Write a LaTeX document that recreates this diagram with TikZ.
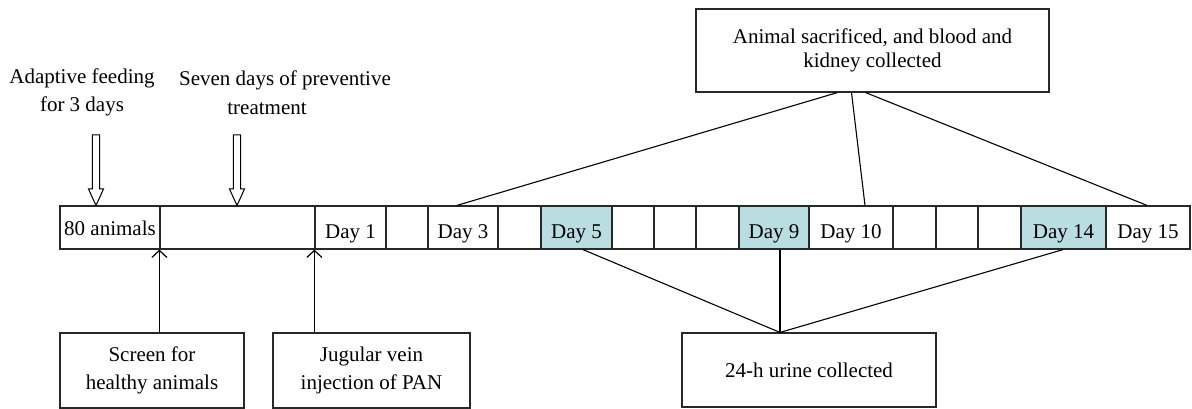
\documentclass[tikz,border=0pt]{standalone}
\usepackage{fontspec}
\setmainfont{Liberation Serif}
\usetikzlibrary{arrows.meta,calc}
\definecolor{tealcell}{RGB}{185,221,224}
\definecolor{ink}{RGB}{40,40,40}
\tikzset{
  txt/.style={font=\fontsize{21}{28.5}\selectfont, inner sep=0pt, align=center},
  cell/.style={draw=ink, line width=1.2pt, minimum height=43pt, inner sep=0pt},
  box/.style={draw=ink, line width=1.1pt, inner sep=0pt, align=center,
    font=\fontsize{21}{28.5}\selectfont},
  conn/.style={draw=black, line width=1.1pt},
  uparrow/.style={draw=black, line width=1.2pt, -{Straight Barb[length=7pt,width=15pt,line width=1.2pt]}},
  hollow/.style={draw=black, line width=1pt, fill=white, line join=miter}
}
\begin{document}
\begin{tikzpicture}[x=1pt,y=-1pt]
\useasboundingbox (0,0) rectangle (1192,409);

% timeline cells
\foreach \l/\r/\n/\t/\f/\dy in {
  60/160/c0/{80 animals}/white/1,
  160/315/c1/{}/white/6,
  315/386/c2/{Day 1}/white/6,
  386/428/c3/{}/white/6,
  428/498/c4/{Day 3}/white/6,
  498/541/c5/{}/white/6,
  541/612/c6/{Day 5}/tealcell/6,
  612/654/c7/{}/white/6,
  654/696/c8/{}/white/6,
  696/739/c9/{}/white/6,
  739/809/c10/{Day 9}/tealcell/6,
  809/893/c11/{Day 10}/white/6,
  893/936/c12/{}/white/6,
  936/978/c13/{}/white/6,
  978/1021/c14/{}/white/6,
  1021/1106/c15/{Day 14}/tealcell/6,
  1106/1190/c16/{Day 15}/white/6}{
  \node[cell, fill=\f, minimum width={(\r-\l)*1pt}] (\n) at ({(\l+\r)/2},227.5) {};
  \node[txt] (\n-t) at ($(\n.center)+(0,\dy)$) {\t};
}

% labels above
\node[txt] (adapt) at (82,92.5) {Adaptive feeding\\for 3 days};
\node[txt] (seven) at (285,92.5) {Seven days of preventive\\\hspace*{-36pt}treatment};

% hollow arrows
\foreach \x in {96,237}{
  \draw[hollow] (\x-3.7,135) -- (\x+3.7,135) -- (\x+3.7,189) -- (\x+7.5,189)
    -- (\x,205.5) -- (\x-7.5,189) -- (\x-3.7,189) -- cycle;
}

% boxes
\node[box, minimum width=353pt, minimum height=83pt, font=\fontsize{21}{23.5}\selectfont]
  (top) at (872.5,50.5) {Animal sacrificed, and blood and\\kidney collected};
\node[box, minimum width=184pt, minimum height=75pt] (screen) at (152,370.5) {Screen for\\healthy animals};
\node[box, minimum width=197pt, minimum height=75pt] (jug) at (371.5,370.5) {Jugular vein\\injection of PAN};
\node[box, minimum width=254pt, minimum height=74pt] (urine) at (809,370) {24-h urine collected};

% up arrows
\draw[uparrow] (c1.south west |- screen.north) -- (c1.south west);
\draw[uparrow] (c2.south west |- jug.north) -- (c2.south west);

% connectors from top box
\draw[conn] ($(top.south)+(-35,0)$) -- ($(c4.north)+(-6,0)$);
\draw[conn] ($(top.south)+(-21,0)$) -- ($(c11.north)+(14,0)$);
\draw[conn] ($(top.south)+(-7,0)$) -- ($(c16.north)+(-1,0)$);

% connectors to urine box
\coordinate (conv) at ($(urine.north)+(-29,0)$);
\draw[conn] ($(c6.south)+(6.5,0)$) -- (conv);
\draw[conn] ($(c10.south)+(6,0)$) -- (conv);
\draw[conn] ($(c15.south)+(-0.5,0)$) -- (conv);
\end{tikzpicture}
\end{document}
